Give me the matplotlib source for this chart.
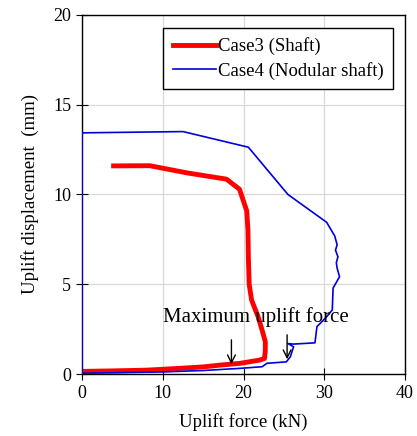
import matplotlib.pyplot as plt

# Case3 (Shaft)
case3_force = [0.0, 4.0, 8.0, 12.1, 15.0, 17.1, 19.6, 21.2, 22.0, 22.6, 22.7, 22.7,
               22.3, 21.8, 21.0, 20.7, 20.6, 20.55, 20.4, 19.5, 17.9, 13.0, 8.4, 3.9]
case3_disp = [0.15, 0.18, 0.22, 0.32, 0.4, 0.5, 0.6, 0.72, 0.78, 0.87, 1.3, 1.8,
              2.45, 3.2, 4.12, 5.0, 6.5, 8.0, 9.08, 10.29, 10.85, 11.2, 11.6, 11.59]

# Case4 (Nodular shaft)
case4_force = [0.0, 5.0, 10.0, 15.0, 19.6, 22.3, 22.9, 25.3, 25.8, 26.2, 25.5, 26.2,
               28.85, 29.1, 30.3, 31.0, 31.1, 31.9, 31.6, 31.5, 31.7, 31.4, 31.6, 31.3,
               30.3, 25.5, 20.6, 12.5, 0.0, 0.0]
case4_disp = [0.05, 0.08, 0.12, 0.2, 0.32, 0.41, 0.6, 0.68, 0.96, 1.52, 1.7, 1.67,
              1.74, 2.64, 3.19, 3.57, 4.79, 5.42, 5.9, 6.2, 6.53, 6.9, 7.2, 7.69,
              8.45, 10.0, 12.63, 13.5, 13.43, 0.05]

arrow_x = [18.5, 25.4]
arrow_top = [2.06, 2.34]
arrow_tip = [0.39, 0.67]

plt.rcParams['font.family'] = ['Liberation Serif', 'DejaVu Serif']

fig = plt.figure(figsize=(4.17, 4.36), dpi=100)
ax = fig.add_axes([0.197, 0.142, 0.774, 0.824])

ax.plot(case3_force, case3_disp, color='#ff0000', lw=3.5, label='Case3 (Shaft)', zorder=3)
ax.plot(case4_force, case4_disp, color='#0000dd', lw=1.2, label='Case4 (Nodular shaft)', zorder=3)

for x, yt, yb in zip(arrow_x, arrow_top, arrow_tip):
    ax.annotate('', xy=(x, yb), xytext=(x, yt),
                arrowprops=dict(arrowstyle='->', color='black', lw=1.0, mutation_scale=14),
                zorder=4)
ax.text(10.0, 3.2, 'Maximum uplift force', fontsize=15, va='center', ha='left', zorder=5)

ax.set_xlim(0, 40)
ax.set_ylim(0, 20)
ax.set_xticks([0, 10, 20, 30, 40])
ax.set_yticks([0, 5, 10, 15, 20])
ax.tick_params(labelsize=13, direction='inout', length=8, color='black', pad=4)
ax.grid(True, color='#d9d9d9', lw=0.9)
ax.set_axisbelow(True)
for s in ax.spines.values():
    s.set_color('black')
    s.set_linewidth(1.0)

ax.set_xlabel('Uplift force (kN)', fontsize=13.5, labelpad=8)
ax.set_ylabel('Uplift displacement  (mm)', fontsize=13.5, labelpad=10)

leg = ax.legend(loc='upper right', bbox_to_anchor=(0.963, 0.963), fontsize=13.5,
                fancybox=False, framealpha=1, edgecolor='black', handlelength=2.3,
                handletextpad=0.1, borderpad=0.5, labelspacing=0.35, borderaxespad=0)
leg.get_frame().set_linewidth(1.0)

fig.savefig('out.png', dpi=100)
